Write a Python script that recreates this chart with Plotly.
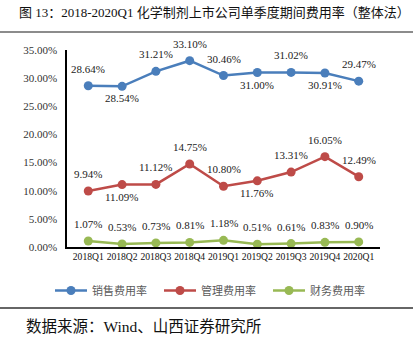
import plotly.graph_objects as go

categories = ["2018Q1", "2018Q2", "2018Q3", "2018Q4", "2019Q1", "2019Q2", "2019Q3", "2019Q4", "2020Q1"]
sales = [28.64, 28.54, 31.21, 33.10, 30.46, 31.00, 31.02, 30.91, 29.47]
admin = [9.94, 11.09, 11.12, 14.75, 10.80, 11.76, 13.31, 16.05, 12.49]
finance = [1.07, 0.53, 0.73, 0.81, 1.18, 0.51, 0.61, 0.83, 0.90]
sales_pos = ["t", "b", "t", "t", "t", "b", "t", "b", "t"]
admin_pos = ["t", "b", "t", "t", "t", "b", "t", "t", "t"]
finance_pos = ["t"] * 9
names = ["销售费用率", "管理费用率", "财务费用率"]
colors = ["#4A7EBB", "#BE4B48", "#98B954"]
y_ticks = [0, 5, 10, 15, 20, 25, 30, 35]

SERIF = "Liberation Serif, Noto Sans CJK SC, serif"

W, H = 419, 338
L, R, T, B = 67, 39, 50, 91
pw, ph = W - L - R, H - T - B
def px(x):
    return (x - L) / pw
def py(y):
    return (H - B - y) / ph

legend_ids = ["legend", "legend2", "legend3"]
legend_x = [50, 159, 268]

fig = go.Figure()
annotations = []
for name, vals, pos, col, lg in zip(names, [sales, admin, finance], [sales_pos, admin_pos, finance_pos], colors, legend_ids):
    fig.add_trace(go.Scatter(
        x=categories, y=vals, name=name, mode="lines+markers",
        line=dict(color=col, width=2.5),
        marker=dict(color=col, size=9),
        legend=lg,
    ))
    for c, v, p in zip(categories, vals, pos):
        annotations.append(dict(
            x=c, y=v, xref="x", yref="y", text=f"{v:.2f}%", showarrow=False,
            yshift=17 if p == "t" else -12,
            font=dict(family=SERIF, size=11, color="#222222"),
        ))

annotations.append(dict(
    x=px(214), y=py(3), xref="paper", yref="paper", yanchor="top", xanchor="center",
    text="图 13：2018-2020Q1 化学制剂上市公司单季度期间费用率（整体法）", showarrow=False,
    font=dict(family=SERIF, size=13, color="#111111"),
))
annotations.append(dict(
    x=px(24), y=py(337), xref="paper", yref="paper", xanchor="left", yanchor="bottom",
    text="数据来源：Wind、山西证券研究所", showarrow=False,
    font=dict(family=SERIF, size=15.5, color="#111111"),
))

legend_common = dict(orientation="h", xanchor="left", yanchor="top", y=py(276),
                     font=dict(family="Noto Sans CJK SC", size=11, color="#595959"),
                     itemwidth=32, bgcolor="rgba(0,0,0,0)")
legends = {lg: dict(legend_common, x=px(lx)) for lg, lx in zip(legend_ids, legend_x)}

fig.update_layout(
    width=W, height=H,
    margin=dict(l=L, r=R, t=T, b=B),
    paper_bgcolor="white", plot_bgcolor="white",
    showlegend=True,
    **legends,
    xaxis=dict(showline=True, linecolor="black", linewidth=1.5, ticks="", showgrid=False,
               tickangle=0,
               tickfont=dict(family=SERIF, size=9.6, color="#111111"), fixedrange=True),
    yaxis=dict(range=[0, 35], tickvals=y_ticks, ticktext=[f"{t:.2f}%" for t in y_ticks],
               showline=True, linecolor="black", linewidth=1.5, ticks="", showgrid=False,
               ticklabelstandoff=6,
               zeroline=False, tickfont=dict(family=SERIF, size=11, color="#333333")),
    annotations=annotations,
    shapes=[
        dict(type="line", xref="paper", yref="paper", x0=px(0), x1=px(413), y0=py(32), y1=py(32),
             line=dict(color="#8C8C8C", width=2)),
        dict(type="line", xref="paper", yref="paper", x0=px(0), x1=px(413), y0=py(308), y1=py(308),
             line=dict(color="#333333", width=1.5)),
    ],
)

fig.write_html("out.html")
